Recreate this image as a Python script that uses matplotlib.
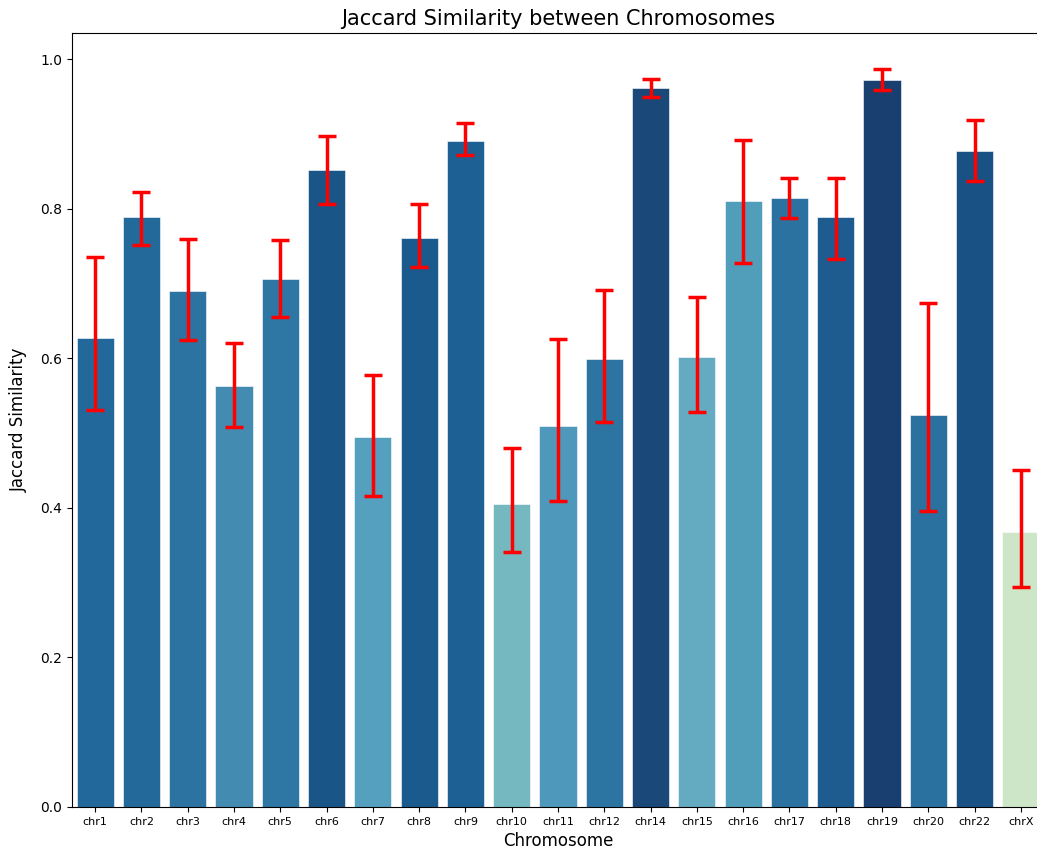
import numpy as np
import matplotlib
matplotlib.use("Agg")
import matplotlib.pyplot as plt

chroms = ["chr1", "chr2", "chr3", "chr4", "chr5", "chr6", "chr7", "chr8", "chr9", "chr10",
          "chr11", "chr12", "chr14", "chr15", "chr16", "chr17", "chr18", "chr19", "chr20", "chr22", "chrX"]
jaccard = [0.627, 0.789, 0.690, 0.563, 0.706, 0.852, 0.495, 0.761, 0.890, 0.405,
           0.509, 0.599, 0.961, 0.602, 0.810, 0.814, 0.789, 0.972, 0.524, 0.877, 0.368]
ci_low = [0.531, 0.751, 0.624, 0.508, 0.655, 0.807, 0.416, 0.722, 0.872, 0.341,
          0.409, 0.515, 0.949, 0.528, 0.727, 0.787, 0.733, 0.959, 0.396, 0.837, 0.294]
ci_high = [0.735, 0.822, 0.759, 0.620, 0.758, 0.897, 0.578, 0.807, 0.914, 0.480,
           0.626, 0.691, 0.973, 0.682, 0.892, 0.841, 0.841, 0.987, 0.674, 0.918, 0.451]

# palette (GnBu shades)
colors = ["#23689b", "#236a9b", "#2c73a2", "#448bb2", "#2e77a4", "#1a5588", "#55a0bf",
          "#1b5a8c", "#1d6194", "#75b8bf", "#4d98bb", "#2c74a2", "#1a4878", "#64abc2",
          "#519ebb", "#2b72a0", "#1e5c90", "#183f70", "#2a71a0", "#1a5184", "#cde6c8"]

x = np.arange(len(chroms))
vals = np.array(jaccard)
yerr = [vals - np.array(ci_low), np.array(ci_high) - vals]

fig = plt.figure(figsize=(10.37, 8.58), dpi=100)
ax = fig.add_axes([72/1037, 51/858, (1044-72)/1037, (807-33)/858])

ax.bar(x, vals, width=0.8, color=colors, edgecolor="white", linewidth=0.4)
ax.errorbar(x, vals, yerr=yerr, fmt="none", ecolor="red", elinewidth=2.5, capsize=6.5, capthick=2.5)

ax.set_xlim(-0.5, len(chroms) - 0.5)
ax.set_ylim(0, 1.035)
ax.set_xticks(x)
ax.set_xticklabels(chroms, fontsize=8)
ax.tick_params(axis="y", labelsize=10)
ax.set_xlabel("Chromosome", fontsize=12)
ax.set_ylabel("Jaccard Similarity", fontsize=12, labelpad=9)
ax.set_title("Jaccard Similarity between Chromosomes", fontsize=15)

fig.savefig("out.png", dpi=100)
